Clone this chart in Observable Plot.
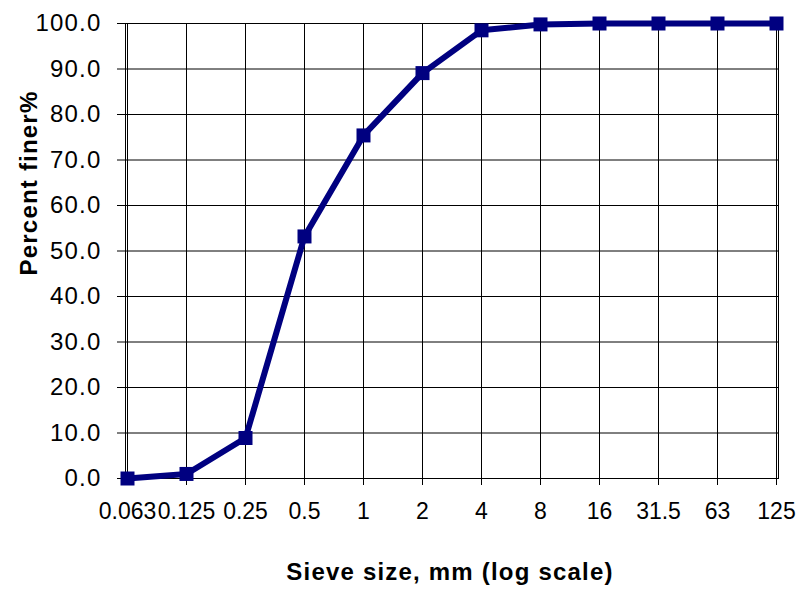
<!DOCTYPE html>
<html>
<head>
<meta charset="utf-8">
<script src="https://cdn.jsdelivr.net/npm/d3@7"></script>
<script src="https://cdn.jsdelivr.net/npm/@observablehq/plot@0.6"></script>
<style>
  html, body { margin: 0; padding: 0; background: #fff; }
  #chart { width: 800px; height: 595px; }
  g[aria-label="x-axis tick label"] { letter-spacing: 0px; }
</style>
</head>
<body>
<div id="chart"></div>
<script>
const sizes = ["0.063", "0.125", "0.25", "0.5", "1", "2", "4", "8", "16", "31.5", "63", "125"];
const finer = [0, 1.0, 8.9, 53.2, 75.4, 89.1, 98.5, 99.8, 100, 100, 100, 100];
const yTicks = [0, 10, 20, 30, 40, 50, 60, 70, 80, 90, 100];
const xLabel = "Sieve size, mm (log scale)";
const yLabel = "Percent finer%";

const data = sizes.map((s, i) => ({size: s, finer: finer[i]}));
const navy = "#000080";
const font = "'Liberation Sans', Arial, sans-serif";

const chart = Plot.plot({
  width: 800,
  height: 595,
  marginLeft: 125,
  marginRight: 22,
  marginTop: 23,
  marginBottom: 117,
  style: {fontFamily: font, background: "#fff", color: "#000", overflow: "visible", letterSpacing: "1.2px"},
  x: {type: "point", domain: sizes, padding: 0},
  y: {domain: [0, 100]},
  marks: [
    Plot.gridX(sizes, {stroke: "#000", strokeOpacity: 1, strokeWidth: 1}),
    Plot.gridY(yTicks, {stroke: "#000", strokeOpacity: 1, strokeWidth: 1}),
    Plot.frame({stroke: "#000", strokeWidth: 1}),
    Plot.axisY(yTicks, {tickFormat: d => d.toFixed(1), tickSize: 8, tickPadding: 16, fontSize: 24, label: null}),
    Plot.axisX(sizes, {tickSize: 7, tickPadding: 17, fontSize: 23, label: null}),
    Plot.line(data, {x: "size", y: "finer", stroke: navy, strokeWidth: 6, strokeLinejoin: "miter", clip: false}),
    Plot.dot(data, {x: "size", y: "finer", symbol: "square", r: 7.9, fill: navy, stroke: "none"}),
    Plot.text([xLabel], {frameAnchor: "bottom", text: d => d, dy: 101, fontSize: 24, fontWeight: "bold", textAnchor: "middle", lineAnchor: "bottom", dx: -2}),
    Plot.text([yLabel], {frameAnchor: "left", text: d => d, rotate: -90, dx: -96, dy: -68, fontSize: 24, fontWeight: "bold", textAnchor: "middle", lineAnchor: "middle"})
  ]
});
document.getElementById("chart").appendChild(chart);
</script>
</body>
</html>
